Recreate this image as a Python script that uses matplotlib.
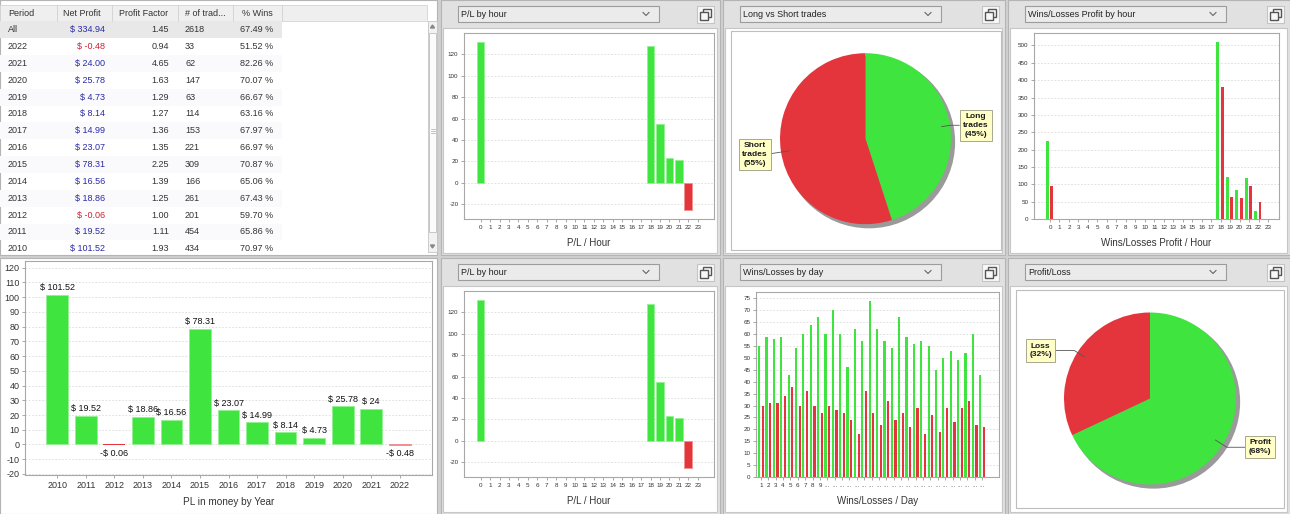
import numpy as np
import matplotlib
matplotlib.use('Agg')
import matplotlib.pyplot as plt
from matplotlib.patches import Rectangle, Circle

plt.rcParams['font.family'] = ['Liberation Sans', 'DejaVu Sans']
plt.rcParams['axes.unicode_minus'] = False

# ---- data ----
periods = ['All', '2022', '2021', '2020', '2019', '2018', '2017', '2016',
           '2015', '2014', '2013', '2012', '2011', '2010']
net_profit = [334.94, -0.48, 24.00, 25.78, 4.73, 8.14, 14.99, 23.07,
              78.31, 16.56, 18.86, -0.06, 19.52, 101.52]
profit_factor = [1.45, 0.94, 4.65, 1.63, 1.29, 1.27, 1.36, 1.35,
                 2.25, 1.39, 1.25, 1.00, 1.11, 1.93]
n_trades = [2618, 33, 62, 147, 63, 114, 153, 221, 309, 166, 261, 201, 454, 434]
pct_wins = [67.49, 51.52, 82.26, 70.07, 66.67, 63.16, 67.97, 66.97,
            70.87, 65.06, 67.43, 59.70, 65.86, 70.97]
table_cols = ['Period', 'Net Profit', 'Profit Factor', '# of trad...', '% Wins']

hours = list(range(24))
pl_hour = [131.5, 0, 0, 0, 0, 0, 0, 0, 0, 0, 0, 0,
           0, 0, 0, 0, 0, 0, 127.5, 55, 23.4, 21.3, -25.6, 0]
wins_hour = [226, 0, 0, 0, 0, 0, 0, 0, 0, 0, 0, 0,
             0, 0, 0, 0, 0, 0, 510, 120, 85, 117, 24, 0]
loss_hour = [95, 0, 0, 0, 0, 0, 0, 0, 0, 0, 0, 0,
             0, 0, 0, 0, 0, 0, 381, 64, 61, 96, 49, 0]

days = list(range(1, 32))
wins_day = [55, 59, 58, 59, 43, 54, 60, 64, 67, 60, 70, 60, 46, 62, 57, 74,
            62, 57, 54, 67, 59, 56, 57, 55, 45, 50, 53, 49, 52, 60, 43]
loss_day = [30, 31, 31, 34, 38, 30, 36, 30, 27, 30, 28, 27, 24, 18, 36, 27,
            22, 32, 24, 27, 21, 29, 18, 26, 19, 29, 23, 29, 32, 22, 21]

years = [2010, 2011, 2012, 2013, 2014, 2015, 2016, 2017, 2018, 2019, 2020, 2021, 2022]
pl_year = [101.52, 19.52, -0.06, 18.86, 16.56, 78.31, 23.07, 14.99, 8.14, 4.73, 25.78, 24.00, -0.48]

ls_names = ['Long\ntrades', 'Short\ntrades']
ls_values = [45, 55]
pf_names = ['Profit', 'Loss']
pf_values = [68, 32]

GREEN = '#3fe43f'
GREEN_EDGE = '#92f292'
RED = '#e5353c'
RED_EDGE = '#f09090'
TXT = '#333333'
W, H = 1290, 514

fig = plt.figure(figsize=(W / 100, H / 100), dpi=100, facecolor='#d0d0d0')
bg = fig.add_axes([0, 0, 1, 1])
bg.set_xlim(0, W)
bg.set_ylim(H, 0)
bg.axis('off')
bg.set_zorder(-1)


def rect(x0, y0, x1, y1, fc, ec='none', lw=0.8):
    bg.add_patch(Rectangle((x0, y0), x1 - x0, y1 - y0, facecolor=fc, edgecolor=ec, lw=lw))


def px_axes(x0, y0, x1, y1):
    return fig.add_axes([x0 / W, 1 - y1 / H, (x1 - x0) / W, (y1 - y0) / H])


def chart_panel(x0, y0, x1, y1, title):
    rect(x0, y0, x1, y1, '#e1e1e1', '#b4b4b4')
    rect(x0 + 2, y0 + 28, x1 - 3, y1 - 2, 'white', '#c6c6c6')
    rect(x0 + 17, y0 + 6, x0 + 218, y0 + 22, '#ebebeb', '#9c9c9c')
    bg.text(x0 + 20, y0 + 14.5, title, fontsize=6.5, va='center', ha='left', color='#222222')
    cx, cy = x0 + 205, y0 + 14
    bg.plot([cx - 3, cx, cx + 3], [cy - 1.5, cy + 1.5, cy - 1.5], color='#666666', lw=0.8)
    rect(x1 - 23, y0 + 6, x1 - 6, y0 + 23, '#f8f8f8', '#c4c4c4')
    rect(x1 - 17, y0 + 9, x1 - 9, y0 + 17, 'none', '#555555', 1)
    rect(x1 - 20, y0 + 12, x1 - 12, y0 + 20, '#f8f8f8', '#555555', 1)


chart_panel(441, 0, 720, 255, 'P/L by hour')
chart_panel(723, 0, 1005, 255, 'Long vs Short trades')
chart_panel(1008, 0, 1290, 255, 'Wins/Losses Profit by hour')
chart_panel(441, 258, 720, 514, 'P/L by hour')
chart_panel(723, 258, 1005, 514, 'Wins/Losses by day')
chart_panel(1008, 258, 1290, 514, 'Profit/Loss')
rect(731, 31, 1001, 250, 'white', '#bdbdbd')
rect(1016, 290, 1284, 508, 'white', '#bdbdbd')

# ---- table panel ----
rect(0, 0, 437, 255, 'white', '#b4b4b4')
rect(0, 258, 437, 514, 'white', '#b4b4b4')
rect(0, 5, 427, 21, '#efefef', '#d4d4d4', 0.6)
col_edges = [0, 56.7, 112.3, 177.7, 233.3, 281.7]
for xe in col_edges[1:]:
    bg.plot([xe, xe], [5, 21], color='#d0d0d0', lw=0.6)
head_x = [8, 82, 144, 205, 257]
head_ha = ['left', 'center', 'center', 'center', 'center']
for t, xx, ha in zip(table_cols, head_x, head_ha):
    bg.text(xx, 13.5, t, fontsize=6.5, ha=ha, va='center', color=TXT)

pitch = 16.85
for i, p in enumerate(periods):
    yc = 29.7 + i * pitch
    if i == 0:
        rect(0, yc - 8.4, 281.7, yc + 8.4, '#e8e8e8')
    elif i % 2 == 0:
        rect(0, yc - 8.4, 281.7, yc + 8.4, '#fafafc')
    v = net_profit[i]
    bg.text(8, yc, p, fontsize=6.5, ha='left', va='center', color=TXT)
    bg.text(105, yc, f'$ {v:.2f}', fontsize=6.5, ha='right', va='center',
            color='#2a2aa8' if v >= 0 else '#cc2233')
    bg.text(169, yc, f'{profit_factor[i]:.2f}', fontsize=6.5, ha='right', va='center', color=TXT)
    bg.text(185, yc, f'{n_trades[i]}', fontsize=6.5, ha='left', va='center', color=TXT)
    bg.text(273, yc, f'{pct_wins[i]:.2f} %', fontsize=6.5, ha='right', va='center', color=TXT)

# scrollbar
rect(428, 21, 437, 252, '#f2f2f2', '#c4c4c4', 0.6)
rect(429, 33, 436, 232, '#fbfbfb', '#c0c0c0', 0.6)
for yy in (129, 131, 133):
    bg.plot([430.5, 434.5], [yy, yy], color='#a8a8a8', lw=0.5)
bg.fill([430.5, 432.5, 434.5], [28, 25, 28], color='#888888')
bg.fill([430.5, 432.5, 434.5], [245, 248, 245], color='#888888')


def style(ax, fs):
    for s in ax.spines.values():
        s.set_color('#a8a8a8')
        s.set_linewidth(0.8)
    ax.tick_params(labelsize=fs, colors='#999999', labelcolor=TXT, length=2, width=0.6, pad=2)
    ax.yaxis.grid(True, ls=(0, (2, 2)), color='#dadada', lw=0.6)
    ax.set_axisbelow(True)


def bar_colors(vals):
    fc = [GREEN if v >= 0 else RED for v in vals]
    ec = [('none' if abs(v) < 0.1 else (GREEN_EDGE if v > 0 else RED_EDGE)) for v in vals]
    return fc, ec


def pl_hour_chart(ax):
    fc, ec = bar_colors(pl_hour)
    ax.bar(hours, pl_hour, width=0.8, color=fc, edgecolor=ec, lw=0.6)
    ax.set_xlim(-1.77, 24.73)
    ax.set_ylim(-34, 140)
    ax.set_yticks(range(-20, 121, 20))
    ax.set_xticks(hours)
    style(ax, 4.5)
    ax.set_xlabel('P/L / Hour', fontsize=7, color=TXT)
    ax.xaxis.set_label_coords(0.5, -0.127)
    ax.xaxis.label.set_va('center')


pl_hour_chart(px_axes(464, 33, 714, 219))
pl_hour_chart(px_axes(464, 291, 714, 477))

# wins/losses profit by hour
ax = px_axes(1034, 33, 1279, 219)
h = np.array(hours)
ax.bar(h - 0.3, wins_hour, width=0.3, color=GREEN)
ax.bar(h + 0.16, loss_hour, width=0.3, color=RED)
ax.set_xlim(-1.69, 24.16)
ax.set_ylim(0, 536)
ax.set_yticks(range(0, 501, 50))
ax.set_xticks(hours)
style(ax, 4.5)
ax.set_xlabel('Wins/Losses Profit / Hour', fontsize=7, color=TXT)
ax.xaxis.set_label_coords(0.5, -0.128)
ax.xaxis.label.set_va('center')

# wins/losses by day
ax = px_axes(756, 292, 999, 477)
d = np.array(days)
ax.bar(d - 0.25, wins_day, width=0.3, color=GREEN)
ax.bar(d + 0.25, loss_day, width=0.3, color=RED)
ax.set_xlim(0.32, 33.3)
ax.set_ylim(0, 77.7)
ax.set_yticks(range(0, 76, 5))
ax.set_xticks(days, [str(x) if x < 10 else '...' for x in days])
style(ax, 4.5)
ax.set_xlabel('Wins/Losses / Day', fontsize=7, color=TXT)
ax.xaxis.set_label_coords(0.5, -0.132)
ax.xaxis.label.set_va('center')

# PL by year
ax = px_axes(25, 261, 432, 475)
xi = np.arange(len(years))
fc, ec = bar_colors(pl_year)
ax.bar(xi, pl_year, width=0.76, color=fc, edgecolor=ec, lw=0.6)
for x, v in zip(xi, pl_year):
    if v >= 0:
        ax.annotate(f'$ {v:g}', (x, v), xytext=(0, 2), textcoords='offset points',
                    ha='center', va='bottom', fontsize=6.5, color='#111111')
    else:
        ax.annotate(f'-$ {abs(v):g}', (x, 0), xytext=(0, -3), textcoords='offset points',
                    ha='center', va='top', fontsize=6.5, color='#111111')
ax.set_xlim(-1.13, 13.13)
ax.set_ylim(-20.7, 124.5)
ax.set_yticks(range(-20, 121, 10))
ax.set_xticks(xi, [str(y) for y in years])
style(ax, 6.5)
ax.set_xlabel('PL in money by Year', fontsize=7.2, color=TXT)
ax.xaxis.set_label_coords(0.5, -0.128)
ax.xaxis.label.set_va('center')


def pie_chart(cx, cy, r, names, values, box_pos):
    ax = px_axes(cx - r, cy - r, cx + r, cy + r)
    ax.add_patch(Circle((0.04, -0.04), 1, color='#9a9a9a', zorder=0, clip_on=False))
    wedges, _ = ax.pie(values, colors=[GREEN, RED], startangle=90, counterclock=False,
                       radius=1, wedgeprops=dict(linewidth=0))
    ax.set_xlim(-1, 1)
    ax.set_ylim(-1, 1)
    for w, name, val, pos in zip(wedges, names, values, box_pos):
        ang = (w.theta1 + w.theta2) / 2
        xy = (0.9 * np.cos(np.radians(ang)), 0.9 * np.sin(np.radians(ang)))
        ax.annotate(f'{name}\n({val}%)', xy=xy, xytext=pos, ha='center', va='center',
                    fontsize=6, fontweight='bold', color='#1a1a1a', linespacing=1.35,
                    annotation_clip=False,
                    bbox=dict(boxstyle='square,pad=0.4', fc='#ffffc6', ec='#9a9a80', lw=0.6),
                    arrowprops=dict(arrowstyle='-', color='#555555', lw=0.6, shrinkA=0, shrinkB=0,
                                    connectionstyle=f'angle,angleA=0,angleB={ang}'))


pie_chart(865.5, 138.7, 85.5, ls_names, ls_values, [(1.29, 0.157), (-1.295, -0.185)])
pie_chart(1150, 398.5, 86, pf_names, pf_values, [(1.28, -0.567), (-1.27, 0.558)])

fig.savefig('out.png', dpi=100, facecolor=fig.get_facecolor())
